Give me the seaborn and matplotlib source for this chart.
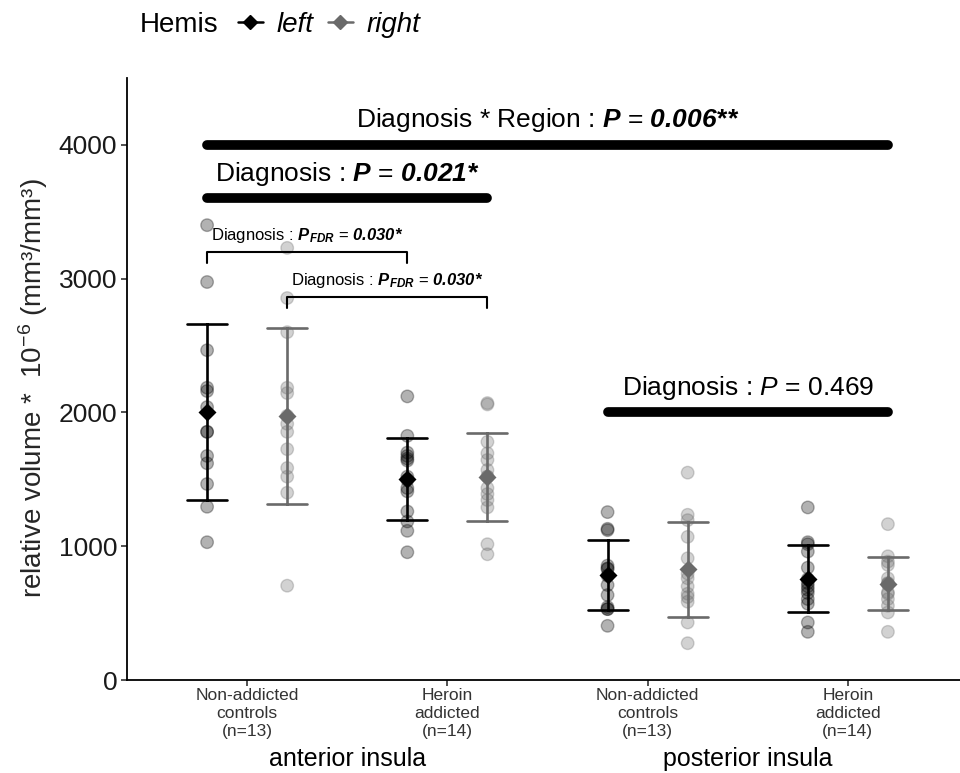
import matplotlib
matplotlib.use('Agg')
import numpy as np
import pandas as pd
import matplotlib.pyplot as plt
import matplotlib.transforms as mtransforms
import seaborn as sns
from matplotlib.lines import Line2D

sns.set_theme(style="ticks")
plt.rcParams['font.family'] = ['Liberation Sans', 'DejaVu Sans']
plt.rcParams['text.color'] = 'black'
plt.rcParams['mathtext.fontset'] = 'custom'
plt.rcParams['mathtext.rm'] = 'Liberation Sans'
plt.rcParams['mathtext.it'] = 'Liberation Sans:italic'
plt.rcParams['mathtext.bf'] = 'Liberation Sans:bold'
plt.rcParams['mathtext.bfit'] = 'Liberation Sans:italic:bold'

# relative volume (* 10^-6) per subject
ant_ctrl_left = [3400, 2975, 2465, 2185, 2160, 2040, 1855, 1855, 1675, 1620, 1465, 1295, 1030]
ant_ctrl_right = [3230, 2855, 2600, 2185, 2145, 1975, 1915, 1855, 1725, 1585, 1520, 1400, 705]
ant_her_left = [2120, 1825, 1700, 1675, 1655, 1640, 1520, 1495, 1435, 1410, 1260, 1185, 1115, 955]
ant_her_right = [2060, 2070, 1780, 1695, 1645, 1570, 1520, 1520, 1435, 1390, 1345, 1290, 1015, 940]
post_ctrl_left = [1255, 1120, 1130, 855, 835, 830, 780, 710, 635, 545, 530, 530, 405]
post_ctrl_right = [1550, 1235, 1195, 1070, 910, 795, 760, 700, 645, 620, 585, 430, 275]
post_her_left = [1290, 1030, 1015, 960, 840, 755, 725, 700, 675, 650, 605, 570, 430, 360]
post_her_right = [1165, 925, 885, 860, 760, 725, 720, 715, 655, 645, 605, 555, 505, 360]

groups = ['ant_ctrl', 'ant_her', 'post_ctrl', 'post_her']
tick_labels = ['Non-addicted\ncontrols\n(n=13)', 'Heroin\naddicted\n(n=14)',
               'Non-addicted\ncontrols\n(n=13)', 'Heroin\naddicted\n(n=14)']
region_labels = ['anterior insula', 'posterior insula']
hemis = ['left', 'right']

# significance annotations
big_bars_y = [4000, 3600, 2000]
big_labels = [r'Diagnosis * Region : $\mathbfit{P}$ = $\mathbfit{0.006{*}{*}}$',
              r'Diagnosis : $\mathbfit{P}$ = $\mathbfit{0.021{*}}$',
              r'Diagnosis : $\mathit{P}$ = 0.469']
bracket_y = [3200, 2865]
bracket_label = r'Diagnosis : $\mathbfit{P_{FDR}}$ = $\mathbfit{0.030{*}}$'

values = {
    ('ant_ctrl', 'left'): ant_ctrl_left, ('ant_ctrl', 'right'): ant_ctrl_right,
    ('ant_her', 'left'): ant_her_left, ('ant_her', 'right'): ant_her_right,
    ('post_ctrl', 'left'): post_ctrl_left, ('post_ctrl', 'right'): post_ctrl_right,
    ('post_her', 'left'): post_her_left, ('post_her', 'right'): post_her_right,
}
rows = []
for (g, h), vals in values.items():
    for v in vals:
        rows.append((g, h, v))
df = pd.DataFrame(rows, columns=['group', 'Hemis', 'volume'])

pal = {'left': 'black', 'right': '#6a6a6a'}

fig = plt.figure(figsize=(9.6, 7.73), dpi=100)
ax = fig.add_axes([127 / 960, 93 / 773, 841 / 960, 602 / 773])

sns.stripplot(data=df, x='group', y='volume', hue='Hemis', order=groups, hue_order=hemis,
              dodge=True, jitter=False, palette=pal, alpha=0.3, size=9, linewidth=1.0,
              ax=ax, legend=False, zorder=2)
for c in ax.collections:
    c.set_edgecolor('face')

sns.pointplot(data=df, x='group', y='volume', hue='Hemis', order=groups, hue_order=hemis,
              dodge=0.4, errorbar='sd', markers='D', markersize=7.5, linestyle='none',
              capsize=0.2, err_kws={'linewidth': 1.9}, palette=pal, ax=ax, legend=False)

ax.set_xlim(-0.6, 3.6)
ax.set_ylim(0, 4500)
ax.set_yticks([0, 1000, 2000, 3000, 4000])
ax.set_xticks(range(4))
ax.set_xticklabels(tick_labels, fontsize=12.5, color='#333333', linespacing=1.25)
ax.tick_params(axis='y', labelsize=19, labelcolor='#1a1a1a', length=4, width=1.2,
               color='#333333', pad=3)
ax.tick_params(axis='x', length=4, width=1.2, color='#333333', pad=2)
ax.set_xlabel('')
ax.set_ylabel('relative volume *  10$^{-6}$ (mm³/mm³)', fontsize=20)
ax.yaxis.set_label_coords(-0.092, 0.485)
for s in ['top', 'right']:
    ax.spines[s].set_visible(False)
for s in ['left', 'bottom']:
    ax.spines[s].set_linewidth(1.3)
    ax.spines[s].set_color('black')

# region labels under the tick labels
trans = mtransforms.blended_transform_factory(ax.transData, ax.transAxes)
for i, lab in enumerate(region_labels):
    ax.text(2 * i + 0.5, -0.131, lab, transform=trans, ha='center', va='center', fontsize=18)

# significance bars
spans = [(-0.2, 3.2), (-0.2, 1.2), (1.8, 3.2)]
for (x0, x1), y, lab in zip(spans, big_bars_y, big_labels):
    ax.plot([x0, x1], [y, y], color='black', lw=7, solid_capstyle='round', zorder=5)
    ax.text((x0 + x1) / 2, y + 185, lab, ha='center', va='center', fontsize=19)

# pairwise brackets
for (x0, x1), y in zip([(-0.2, 0.8), (0.2, 1.2)], bracket_y):
    ax.plot([x0, x0, x1, x1], [y - 85, y, y, y - 85], color='black', lw=1.5, zorder=5)
    ax.text((x0 + x1) / 2, y + 125, bracket_label, ha='center', va='center', fontsize=12)

# legend at the top
fig.text(140 / 960, 1 - 25 / 773, 'Hemis', ha='left', va='center', fontsize=20)
handles = [Line2D([0], [0], color=pal[h], marker='D', markersize=7, lw=1.8) for h in hemis]
fig.legend(handles, hemis, loc='center left', bbox_to_anchor=(224 / 960, 1 - 25 / 773),
           ncol=2, frameon=False, prop={'style': 'italic', 'size': 20},
           handlelength=0.9, columnspacing=0.5, handletextpad=0.5, borderpad=0)

fig.savefig('out.png', dpi=100)
